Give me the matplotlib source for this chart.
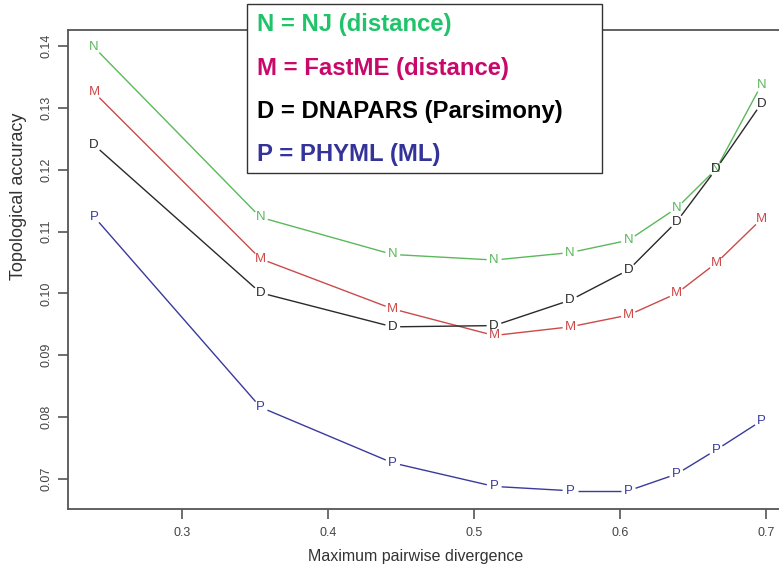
import numpy as np
import matplotlib
matplotlib.use("Agg")
import matplotlib.pyplot as plt
from matplotlib.patches import Rectangle

# ---- data ----
divergence = [0.240, 0.354, 0.4445, 0.514, 0.566, 0.606, 0.639, 0.666, 0.697]
nj =      [0.1398, 0.1123, 0.1063, 0.1054, 0.1066, 0.1086, 0.1138, 0.1201, 0.1337]
fastme =  [0.1325, 0.1056, 0.0975, 0.0932, 0.0946, 0.0965, 0.1000, 0.1049, 0.1120]
dnapars = [0.1240, 0.1001, 0.0946, 0.0948, 0.0989, 0.1038, 0.1116, 0.1201, 0.1307]
phyml =   [0.1124, 0.0816, 0.0726, 0.0688, 0.0681, 0.0681, 0.0708, 0.0747, 0.0794]

x_ticks = [0.3, 0.4, 0.5, 0.6, 0.7]
y_ticks = [0.07, 0.08, 0.09, 0.10, 0.11, 0.12, 0.13, 0.14]

series = [
    ("N", nj, "#5cb85c"),
    ("M", fastme, "#cc4a4a"),
    ("D", dnapars, "#2a2a2a"),
    ("P", phyml, "#3a3a9c"),
]
legend_lines = [
    ("N = NJ (distance)", "#1fc46a"),
    ("M = FastME (distance)", "#c8086a"),
    ("D = DNAPARS (Parsimony)", "#000000"),
    ("P = PHYML (ML)", "#33339a"),
]

plt.rcParams['font.family'] = ['Liberation Sans', 'DejaVu Sans']

W, H = 779, 569
fig = plt.figure(figsize=(W / 100, H / 100), dpi=100)
left_px, right_px, top_px, bot_px = 67.5, 784.7, 30, 509
ax = fig.add_axes([left_px / W, 1 - bot_px / H, (right_px - left_px) / W, (bot_px - top_px) / H])
ax.set_xlim(0.2218, 0.7130)
ax.set_ylim(0.06515, 0.14259)

axis_grey = "#555555"
for s in ax.spines.values():
    s.set_color(axis_grey)
    s.set_linewidth(1.3)
ax.set_xticks(x_ticks)
ax.set_xticklabels([f"{v:.1f}" for v in x_ticks])
ax.set_yticks(y_ticks)
ax.set_yticklabels([f"{v:.2f}" for v in y_ticks], rotation=90, va="center")
ax.tick_params(axis="both", direction="out", length=7, width=1.2, color=axis_grey,
               labelcolor="#444444", labelsize=9)
ax.tick_params(axis="x", pad=6)
ax.tick_params(axis="y", pad=4)

# lines with gaps around letters (R type="b")
fig.canvas.draw()
trans = ax.transData
inv = trans.inverted()
gap = 7.5
for letter, vals, col in series:
    pts = trans.transform(np.column_stack([divergence, vals]))
    for i in range(len(pts) - 1):
        p0, p1 = pts[i], pts[i + 1]
        d = p1 - p0
        L = np.hypot(*d)
        if L <= 2 * gap:
            continue
        u = d / L
        a = inv.transform(p0 + u * gap)
        b = inv.transform(p1 - u * gap)
        ax.plot([a[0], b[0]], [a[1], b[1]], color=col, lw=1.0, solid_capstyle="butt")
    for xv, yv in zip(divergence, vals):
        ax.text(xv, yv, letter, color=col, fontsize=9.5, ha="center", va="center")

fig.text(416 / W, 1 - 556 / H, "Maximum pairwise divergence", ha="center", va="center",
         fontsize=11.5, color="#333333")
fig.text(19 / W, 1 - 196 / H, "Topological accuracy", ha="center", va="center",
         rotation=90, fontsize=13, color="#333333")

# legend box
bx0, bx1, by0, by1 = 246.5, 601.5, 4, 173
fig.add_artist(Rectangle((bx0 / W, 1 - by1 / H), (bx1 - bx0) / W, (by1 - by0) / H,
                         transform=fig.transFigure, facecolor="white", edgecolor="#333333",
                         linewidth=1.0, zorder=5))
row_y = [25, 68.3, 111.7, 155]
for (txt, col), ry in zip(legend_lines, row_y):
    fig.text(257 / W, 1 - ry / H, txt, color=col, fontsize=17.2, fontweight="bold",
             ha="left", va="center", zorder=6)

fig.savefig("out.png", dpi=100)
